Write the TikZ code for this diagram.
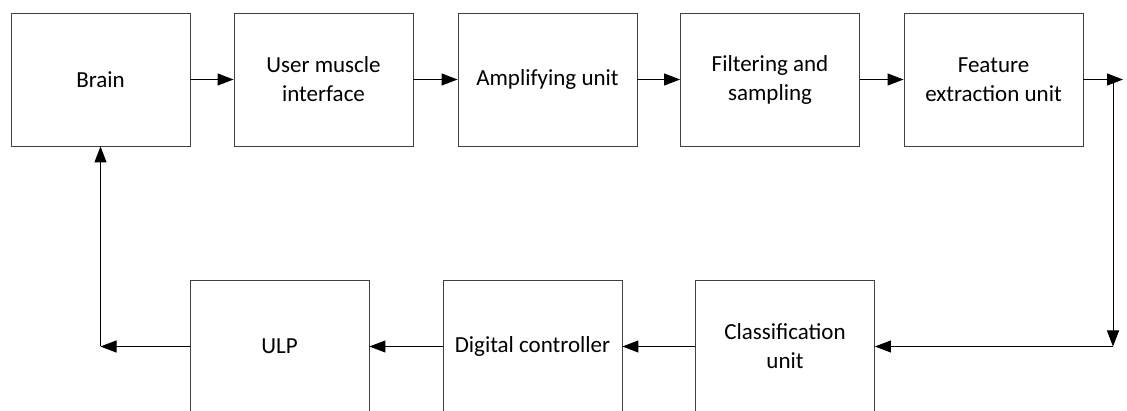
\documentclass[tikz,border=0pt]{standalone}
\usepackage{fontspec}
\setmainfont{Carlito}
\usetikzlibrary{arrows.meta}
\tikzset{
  block/.style={draw=black!75, line width=0.9pt, minimum width=179pt, minimum height=133pt,
    align=center, inner sep=2pt, font=\fontsize{23}{29}\selectfont, text=black},
  flow/.style={line width=1pt, -{Triangle[length=16pt,width=12pt]}}
}
\begin{document}
\begin{tikzpicture}[x=1pt,y=-1pt]
  \useasboundingbox (0,0) rectangle (1127,411);
  \clip (0,0) rectangle (1127,411);
  % upper chain
  \node[block] (brain) at (100.5,79.5) {Brain};
  \node[block] (umi)   at (323.5,79.5) {User muscle\\interface};
  \node[block] (amp)   at (547.5,79.5) {Amplifying unit};
  \node[block] (filt)  at (770,79.5)   {Filtering and\\sampling};
  \node[block] (feat)  at (993.5,79.5) {Feature\\extraction unit};
  % lower chain (runs off the lower edge)
  \node[block] (cls)   at (785,346.5)   {Classification\\unit};
  \node[block] (dig)   at (532.5,346.5) {Digital controller};
  \node[block] (ulp)   at (279.5,346.5) {ULP};
  % bend points
  \coordinate (ftip) at (1123,79.5);
  \coordinate (rtop) at (1113,79.5);
  \coordinate (rbot) at (1113,346.5);
  \coordinate (lbot) at (100.5,346.5);
  % connectors
  \draw[flow] (brain.east) -- (umi.west);
  \draw[flow] (umi.east) -- (amp.west);
  \draw[flow] (amp.east) -- (filt.west);
  \draw[flow] (filt.east) -- (feat.west);
  \draw[flow] (feat.east) -- (ftip);
  \draw[flow] (rtop) -- (rbot);
  \draw[flow] (rbot) -- (cls.east);
  \draw[flow] (cls.west) -- (dig.east);
  \draw[flow] (dig.west) -- (ulp.east);
  \draw[flow] (ulp.west) -- (lbot);
  \draw[flow] (lbot) -- (brain.south);
\end{tikzpicture}
\end{document}
